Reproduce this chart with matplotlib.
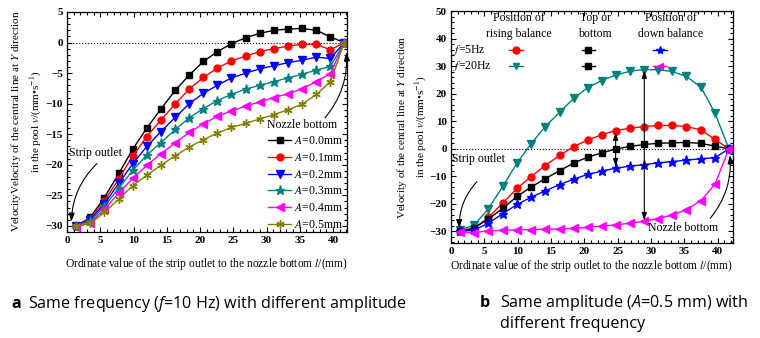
import matplotlib
matplotlib.use("Agg")
import matplotlib.pyplot as plt

plt.rcParams['font.family'] = ['Liberation Serif', 'DejaVu Serif']
plt.rcParams['mathtext.fontset'] = 'custom'
plt.rcParams['mathtext.rm'] = 'Open Sans'
plt.rcParams['mathtext.it'] = 'Open Sans:italic'
plt.rcParams['mathtext.bf'] = 'Open Sans:bold'

# distance from the strip outlet, mm
l_pos = [1.4, 3.5, 5.6, 7.8, 9.9, 12.0, 14.1, 16.3, 18.4, 20.5,
         22.6, 24.7, 26.9, 29.0, 31.1, 33.2, 35.3, 37.5, 39.6, 41.7]

# (a) f = 10 Hz, different amplitude
amp_labels = ['0.0', '0.1', '0.2', '0.3', '0.4', '0.5']
v_a00 = [-30.0, -28.6, -25.4, -21.4, -17.4, -14.0, -10.9, -7.8, -5.3, -3.1,
         -1.5, -0.2, 0.8, 1.5, 2.0, 2.2, 2.3, 2.0, 0.9, 0.0]
v_a01 = [-30.0, -28.8, -25.9, -22.3, -18.5, -15.4, -12.7, -10.0, -7.6, -5.7,
         -4.2, -3.0, -2.2, -1.5, -1.0, -0.6, -0.3, -0.3, -1.2, 0.0]
v_a02 = [-30.0, -29.0, -26.4, -23.0, -19.8, -17.0, -14.6, -12.2, -10.0, -8.3,
         -7.0, -5.8, -5.0, -4.3, -3.8, -3.3, -2.9, -2.4, -2.6, 0.0]
v_a03 = [-30.0, -29.2, -26.8, -23.8, -20.9, -18.4, -16.4, -14.2, -12.3, -10.8,
         -9.5, -8.5, -7.6, -7.0, -6.4, -5.8, -5.2, -4.5, -3.9, 0.0]
v_a04 = [-30.2, -29.5, -27.3, -24.6, -22.2, -20.1, -18.2, -16.4, -14.7, -13.3,
         -12.1, -11.2, -10.4, -9.7, -9.0, -8.4, -7.6, -6.4, -5.1, 0.0]
v_a05 = [-30.0, -29.6, -27.8, -25.6, -23.4, -21.7, -20.1, -18.5, -17.1, -15.9,
         -14.8, -13.9, -13.2, -12.5, -11.8, -11.0, -10.1, -8.5, -6.4, 0.0]

# (b) A = 0.5 mm, f = 5 Hz and 20 Hz
v_5hz_rise = [-30.0, -29.0, -24.9, -19.6, -14.4, -10.1, -6.1, -2.4, 0.8, 3.2,
              5.1, 6.6, 7.5, 8.1, 8.5, 8.5, 8.1, 6.9, 3.4, 0.0]
v_top = [-30.0, -28.6, -25.5, -21.6, -17.3, -13.9, -10.9, -7.9, -5.2, -3.0,
         -1.5, -0.1, 0.9, 1.6, 2.0, 2.2, 2.3, 2.0, 1.0, 0.0]
v_5hz_down = [-30.0, -29.5, -27.0, -23.5, -20.2, -17.6, -15.3, -13.0, -11.0, -9.3,
              -8.1, -7.0, -6.3, -5.7, -5.1, -4.6, -4.1, -3.6, -3.2, 0.0]
v_20hz_rise = [-29.5, -27.6, -21.8, -13.5, -5.2, 1.8, 8.0, 13.3, 18.3, 22.2,
               24.8, 26.8, 28.2, 28.8, 28.7, 28.1, 26.3, 22.4, 13.0, 0.0]
v_20hz_down = [-30.3, -30.4, -29.8, -29.6, -29.4, -29.3, -29.2, -29.1, -28.9, -28.5,
               -28.1, -27.6, -27.0, -26.3, -25.3, -24.0, -22.2, -18.8, -12.9, 0.0]

xlabel = r'Ordinate value of the strip outlet to the nozzle bottom $l$/(mm)'


def style_axes(ax):
    ax.tick_params(which='both', direction='in', top=True, right=True,
                   width=0.8, labelsize=8, pad=3)
    ax.tick_params(which='major', length=3.5)
    ax.tick_params(which='minor', length=2)
    ax.minorticks_on()
    for lab in ax.get_xticklabels() + ax.get_yticklabels():
        lab.set_fontweight('bold')
    for s in ax.spines.values():
        s.set_linewidth(0.9)
    ax.axhline(0, color='k', ls=':', lw=0.8, zorder=1)


def curved_arrow(ax, start, end, rad):
    ax.annotate('', xy=end, xytext=start,
                arrowprops=dict(arrowstyle='-|>,head_length=0.5,head_width=0.18',
                                connectionstyle='arc3,rad=%s' % rad,
                                color='k', lw=0.8, shrinkA=0, shrinkB=0))


fig = plt.figure(figsize=(7.6, 3.38), dpi=100)

# ---------------- panel a ----------------
ax1 = fig.add_axes([0.0882, 0.3136, 0.3684, 0.651])
series_a = [v_a00, v_a01, v_a02, v_a03, v_a04, v_a05]
colors_a = ['#000000', '#ff0000', '#0000ff', '#008080', '#ff00ff', '#808000']
markers_a = ['s', 'o', 'v', '*', '<', (6, 2, 0)]
sizes_a = [4.5, 5, 5.5, 6.5, 5.5, 6]
for vals, c, m, ms, lab in zip(series_a, colors_a, markers_a, sizes_a, amp_labels):
    ax1.plot(l_pos, vals, color=c, marker=m, ms=ms, lw=1.0, mew=1.0,
             label=r'$A$=%smm' % lab)
ax1.set_xlim(0, 42.1)
ax1.set_ylim(-31, 5)
ax1.set_xticks(range(0, 41, 5))
ax1.set_yticks(range(-30, 6, 5))
style_axes(ax1)
leg = ax1.legend(loc='lower right', bbox_to_anchor=(0.985, 0.005), frameon=False,
                 fontsize=8.5, handlelength=1.9, handletextpad=0.25,
                 labelspacing=0.4, borderpad=0, borderaxespad=0)
for t in leg.get_texts():
    t.set_math_fontfamily('stix')
ax1.set_xlabel(xlabel, fontsize=8.3, labelpad=8, math_fontfamily='stix')
fig.text(16 / 760, 0.64, r'VelocityVelocity of the central line at $Y$ direction',
         rotation=90, ha='center', va='center', fontsize=8, math_fontfamily='stix')
fig.text(36 / 760, 0.64, r'in the pool $v$/(mm•s$^{-1}$)',
         rotation=90, ha='center', va='center', fontsize=8, math_fontfamily='stix')
ax1.text(0.3, -18.1, 'Strip outlet', fontsize=8.5, va='center')
curved_arrow(ax1, (4.5, -19.8), (0.65, -29.3), 0.2)
ax1.text(30.0, -13.5, 'Nozzle bottom', fontsize=8.5, va='center')
curved_arrow(ax1, (38.8, -12.3), (42.0, -1.6), 0.2)

# ---------------- panel b ----------------
ax2 = fig.add_axes([0.5934, 0.281, 0.371, 0.686])
series_b = [v_20hz_rise, v_5hz_rise, v_top, v_5hz_down, v_20hz_down]
colors_b = ['#008080', '#ff0000', '#000000', '#0000ff', '#ff00ff']
markers_b = ['v', 'o', 's', '*', '<']
sizes_b = [5.5, 5, 4.5, 6.5, 5.5]
for vals, c, m, ms in zip(series_b, colors_b, markers_b, sizes_b):
    ax2.plot(l_pos, vals, color=c, marker=m, ms=ms, lw=1.0, mew=1.0)
ax2.set_xlim(0, 42.3)
ax2.set_ylim(-34.2, 50)
ax2.set_xticks(range(0, 41, 5))
ax2.set_yticks(range(-30, 51, 10))
style_axes(ax2)

# double arrows between balance positions
i1, i2 = 11, 13
ax2.annotate('', xy=(l_pos[i1], v_5hz_rise[i1] - 0.6), xytext=(l_pos[i1], v_5hz_down[i1] + 0.6),
             arrowprops=dict(arrowstyle='<|-|>,head_length=0.45,head_width=0.15',
                             color='k', lw=0.8, shrinkA=0, shrinkB=0))
ax2.annotate('', xy=(l_pos[i2], v_20hz_rise[i2] - 0.3), xytext=(l_pos[i2], v_20hz_down[i2] + 0.3),
             arrowprops=dict(arrowstyle='<|-|>,head_length=0.45,head_width=0.15',
                             color='k', lw=0.8, shrinkA=0, shrinkB=0))

# hand-made legend table
tr = ax2.transAxes
head_kw = dict(transform=tr, ha='center', va='center', fontsize=8.5, linespacing=1.45)
ax2.text(0.242, 0.935, 'Position of\nrising balance', **head_kw)
ax2.text(0.511, 0.935, 'Top or\nbottom', **head_kw)
ax2.text(0.779, 0.935, 'Position of\ndown balance', **head_kw)
ax2.text(0.006, 0.834, r'$f$=5Hz', transform=tr, va='center', fontsize=8.5,
         math_fontfamily='stix')
ax2.text(0.006, 0.765, r'$f$=20Hz', transform=tr, va='center', fontsize=8.5,
         math_fontfamily='stix')
rows = [(0.834, ['#ff0000', '#000000', '#0000ff'], ['o', 's', '*']),
        (0.765, ['#008080', '#000000', '#ff00ff'], ['v', 's', '<'])]
for y, cs, ms in rows:
    for xc, c, m in zip([0.2305, 0.487, 0.741], cs, ms):
        ax2.plot([xc - 0.024, xc + 0.024], [y, y], color=c, lw=1.0, transform=tr,
                 clip_on=False)
        ax2.plot([xc], [y], color=c, marker=m, ms=6 if m in '*' else 5,
                 transform=tr, clip_on=False)

ax2.set_xlabel(xlabel, fontsize=8.3, labelpad=1.5, math_fontfamily='stix')
fig.text(402 / 760, 0.624, r'Velocity of the central line at $Y$ direction',
         rotation=90, ha='center', va='center', fontsize=8, math_fontfamily='stix')
fig.text(421 / 760, 0.624, r'in the pool $v$/(mm•s$^{-1}$)',
         rotation=90, ha='center', va='center', fontsize=8, math_fontfamily='stix')
ax2.text(0.2, -3.8, 'Strip outlet', fontsize=8.5, va='center')
curved_arrow(ax2, (3.9, -11.9), (1.25, -28.8), 0.2)
ax2.text(29.6, -28.8, 'Nozzle bottom', fontsize=8.5, va='center')
curved_arrow(ax2, (38.9, -25.2), (41.85, -2.3), 0.2)

# captions
cap_kw = dict(fontsize=11.6, family='Open Sans', va='center', math_fontfamily='custom')
fig.text(11 / 760, 1 - 304 / 338, 'a', weight='bold', **cap_kw)
fig.text(28 / 760, 1 - 304 / 338, r'Same frequency ($f$=10 Hz) with different amplitude', **cap_kw)
fig.text(480 / 760, 1 - 303 / 338, 'b', weight='bold', **cap_kw)
fig.text(500 / 760, 1 - 303 / 338, r'Same amplitude ($A$=0.5 mm) with', **cap_kw)
fig.text(500 / 760, 1 - 324 / 338, 'different frequency', **cap_kw)

fig.savefig('out.png', dpi=100)
